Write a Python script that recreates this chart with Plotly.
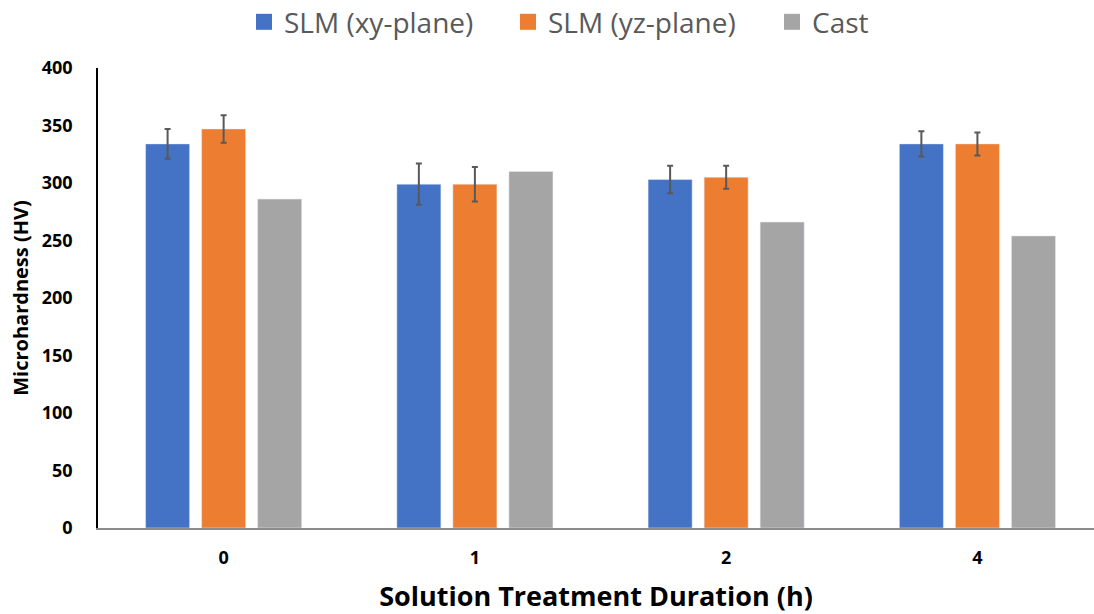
import plotly.graph_objects as go

durations = ["0", "1", "2", "4"]
series_names = ["SLM (xy-plane)", "SLM (yz-plane)", "Cast"]
xy_hv = [334, 299, 303, 334]
xy_err = [13, 18, 12, 11]
yz_hv = [347, 299, 305, 334]
yz_err = [12, 15, 10, 10]
cast_hv = [286, 310, 266, 254]
colors = ["#4472C4", "#ED7D31", "#A5A5A5"]

fig = go.Figure()
err_style = dict(type="data", thickness=2, width=3, color="#595959")
fig.add_trace(go.Bar(x=durations, y=xy_hv, name=series_names[0], marker_color=colors[0],
                     error_y=dict(array=xy_err, **err_style), showlegend=False))
fig.add_trace(go.Bar(x=durations, y=yz_hv, name=series_names[1], marker_color=colors[1],
                     error_y=dict(array=yz_err, **err_style), showlegend=False))
fig.add_trace(go.Bar(x=durations, y=cast_hv, name=series_names[2], marker_color=colors[2],
                     showlegend=False))

# Legend keys drawn as larger filled squares
for name, color in zip(series_names, colors):
    fig.add_trace(go.Scatter(x=[None], y=[None], mode="markers", name=name,
                             marker=dict(symbol="square", size=16, color=color)))

font_family = "Open Sans, Liberation Sans, sans-serif"
fig.update_layout(
    width=1094, height=614,
    margin=dict(l=98, r=0, t=68, b=86, autoexpand=False),
    plot_bgcolor="white", paper_bgcolor="white",
    barmode="group", bargap=0.331, bargroupgap=0.214,
    font=dict(family=font_family, color="#000000"),
    legend=dict(orientation="h", x=0.1466, xanchor="left", yref="container", y=0.964,
                yanchor="middle", font=dict(size=28, color="#595959"), itemwidth=30,
                entrywidth=219, entrywidthmode="pixels", traceorder="normal"),
    xaxis=dict(type="category", range=[-0.5, 3.464], showgrid=False, showline=True,
               linecolor="#8C8C8C", linewidth=2, ticks="", ticklabelstandoff=12,
               tickfont=dict(size=18, color="#000000", family=font_family, weight="bold"),
               title=dict(text="<b>Solution Treatment Duration (h)</b>", font=dict(size=27),
                          standoff=20)),
    yaxis=dict(range=[0, 400], dtick=50, showgrid=False, showline=True, linecolor="#000000",
               linewidth=1.5, ticks="", zeroline=False, ticklabelstandoff=20,
               tickfont=dict(size=18, color="#000000", family=font_family, weight="bold"),
               title=dict(text="<b>Microhardness (HV)</b>", font=dict(size=20), standoff=8)),
)

fig.write_html("out.html")
